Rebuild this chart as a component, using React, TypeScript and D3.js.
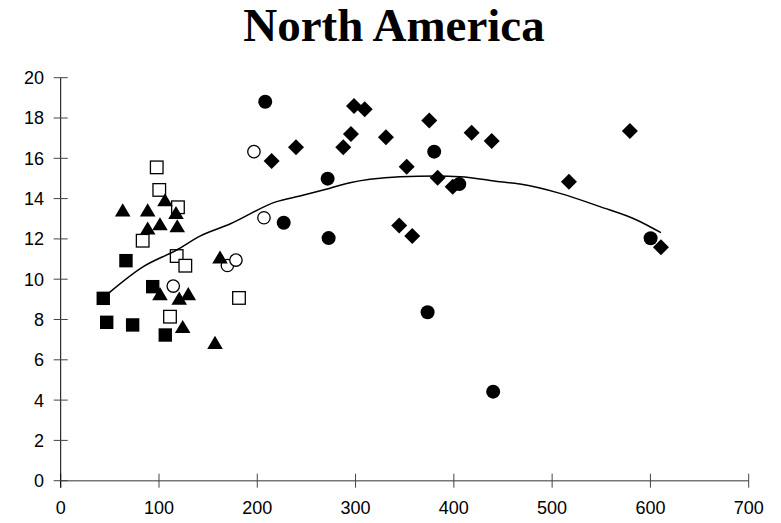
import React from "react";
import * as d3 from "d3";

const TITLE = "North America";
const X_TICKS = [0, 100, 200, 300, 400, 500, 600, 700];
const Y_TICKS = [0, 2, 4, 6, 8, 10, 12, 14, 16, 18, 20];

const filledSquaresX = [43.3, 66.4, 46.8, 73.2, 93.6, 106.4];
const filledSquaresY = [9.05, 10.92, 7.86, 7.73, 9.63, 7.23];

const openSquaresX = [97.7, 100.3, 119.3, 83.4, 118.0, 126.8, 111.2, 181.4];
const openSquaresY = [15.55, 14.43, 13.57, 11.91, 11.15, 10.67, 8.14, 9.07];

const trianglesX = [63.1, 88.5, 106.1, 117.3, 101, 88.5, 118.6, 162.1, 101, 120.6, 129.8, 124.1, 157];
const trianglesY = [13.43, 13.43, 13.93, 13.3, 12.74, 12.53, 12.64, 11.09, 9.27, 9.05, 9.27, 7.64, 6.85];

const openCirclesX = [114.5, 196.6, 206.8, 169.6, 178.3];
const openCirclesY = [9.66, 16.33, 13.05, 10.68, 10.95];

const filledCirclesX = [208.1, 271.6, 226.9, 272.6, 380, 405.5, 373.3, 440, 600.2];
const filledCirclesY = [18.81, 14.99, 12.8, 12.04, 16.33, 14.72, 8.36, 4.42, 12.03];

const diamondsX = [298.4, 309.3, 375, 295.3, 330.9, 239.4, 287.5, 214.6, 352, 383.5, 398.8, 344.4, 357.7, 418.1, 438.5, 579.1, 517.1, 610.7];
const diamondsY = [18.6, 18.43, 17.87, 17.21, 17.04, 16.55, 16.55, 15.87, 15.58, 15.04, 14.59, 12.66, 12.14, 17.27, 16.86, 17.36, 14.84, 11.58];

const trendX = [49.4, 84.0, 118.0, 141.7, 172.2, 219.7, 243.4, 267.1, 294.3, 314.6, 345.2, 382.5, 406.2, 446.9, 467.3, 508, 548.7, 586, 610.7];
const trendY = [9.33, 10.62, 11.45, 12.14, 12.74, 13.85, 14.13, 14.43, 14.79, 14.96, 15.09, 15.12, 15.09, 14.84, 14.72, 14.26, 13.6, 12.94, 12.31];

const W = 781;
const H = 523;

export default function App() {
  const x = d3.scaleLinear().domain([0, 700]).range([60.7, 748.7]);
  const y = d3.scaleLinear().domain([0, 20]).range([480.7, 77.7]);

  const zip = (xs: number[], ys: number[]) => xs.map((v, i) => [v, ys[i]] as [number, number]);

  const trend = d3
    .line<[number, number]>()
    .x((d) => x(d[0]))
    .y((d) => y(d[1]))
    .curve(d3.curveMonotoneX)(zip(trendX, trendY)) as string;

  const sq = 6.7;
  const osq = 6.3;
  const tri = (cx: number, cy: number) =>
    `M${cx},${cy - 6.8} L${cx + 7.8},${cy + 6.3} L${cx - 7.8},${cy + 6.3} Z`;
  const dia = (cx: number, cy: number) =>
    `M${cx},${cy - 8} L${cx + 8},${cy} L${cx},${cy + 8} L${cx - 8},${cy} Z`;

  return (
    <svg
      width={W}
      height={H}
      style={{ position: "absolute", left: 0, top: 0, background: "#fff" }}
    >
      <rect x={0} y={0} width={W} height={H} fill="#fff" />
      <text
        x={394}
        y={41}
        textAnchor="middle"
        fontFamily="'Liberation Serif', 'Times New Roman', serif"
        fontWeight="bold"
        fontSize={47}
        fill="#000"
      >
        {TITLE}
      </text>

      {/* x axis */}
      <line x1={x(0)} x2={x(700)} y1={y(0)} y2={y(0)} stroke="#777" strokeWidth={1.6} />
      {X_TICKS.map((t) => (
        <g key={"xt" + t}>
          <line x1={x(t)} x2={x(t)} y1={y(0) - 7} y2={y(0) + 7} stroke="#444" strokeWidth={1} />
          <text
            x={x(t)}
            y={514}
            textAnchor="middle"
            fontFamily="'Liberation Sans', Arial, sans-serif"
            fontSize={18}
            fill="#000"
          >
            {t}
          </text>
        </g>
      ))}

      {/* y axis */}
      <line x1={x(0)} x2={x(0)} y1={y(0) + 7} y2={y(20)} stroke="#000" strokeWidth={1} />
      {Y_TICKS.map((t) => (
        <g key={"yt" + t}>
          <line x1={x(0) - 7} x2={x(0) + 7} y1={y(t)} y2={y(t)} stroke="#444" strokeWidth={1} />
          <text
            x={44}
            y={y(t)}
            dy="0.36em"
            textAnchor="end"
            fontFamily="'Liberation Sans', Arial, sans-serif"
            fontSize={18}
            fill="#000"
          >
            {t}
          </text>
        </g>
      ))}

      {/* markers */}
      {zip(openCirclesX, openCirclesY).map((d, i) => (
        <circle key={"oc" + i} cx={x(d[0])} cy={y(d[1])} r={6.2} fill="#fff" stroke="#000" strokeWidth={1.3} />
      ))}
      {zip(openSquaresX, openSquaresY).map((d, i) => (
        <rect
          key={"os" + i}
          x={x(d[0]) - osq}
          y={y(d[1]) - osq}
          width={osq * 2}
          height={osq * 2}
          fill="#fff"
          stroke="#000"
          strokeWidth={1.3}
        />
      ))}
      {zip(filledSquaresX, filledSquaresY).map((d, i) => (
        <rect key={"fs" + i} x={x(d[0]) - sq} y={y(d[1]) - sq} width={sq * 2} height={sq * 2} fill="#000" />
      ))}
      {zip(trianglesX, trianglesY).map((d, i) => (
        <path key={"tr" + i} d={tri(x(d[0]), y(d[1]))} fill="#000" />
      ))}
      {zip(filledCirclesX, filledCirclesY).map((d, i) => (
        <circle key={"fc" + i} cx={x(d[0])} cy={y(d[1])} r={7} fill="#000" />
      ))}
      {zip(diamondsX, diamondsY).map((d, i) => (
        <path key={"di" + i} d={dia(x(d[0]), y(d[1]))} fill="#000" />
      ))}

      <path d={trend} fill="none" stroke="#000" strokeWidth={1.5} />
    </svg>
  );
}
